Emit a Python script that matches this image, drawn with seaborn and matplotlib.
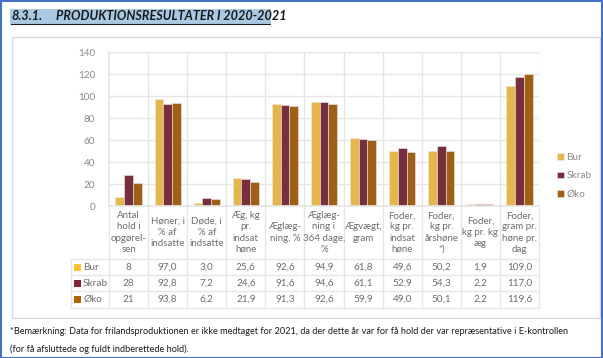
import matplotlib
matplotlib.use("Agg")
import matplotlib.pyplot as plt
import matplotlib.transforms as mtransforms
from matplotlib.patches import Rectangle
import pandas as pd
import seaborn as sns

# data
groups = ["Bur", "Skrab", "Øko"]
metrics = [
    "Antal\nhold i\nopgørel-\nsen",
    "Høner, i\n% af\nindsatte",
    "Døde, i\n% af\nindsatte",
    "Æg, kg\npr.\nindsat\nhøne",
    "Æglæg-\nning, %",
    "Æglæg-\nning i\n364 dage,\n%",
    "Ægvægt,\ngram",
    "Foder,\nkg pr.\nindsat\nhøne",
    "Foder,\nkg pr.\nårshøne\n*)",
    "Foder,\nkg pr. kg\næg",
    "Foder,\ngram pr.\nhøne pr.\ndag",
]
bur = [8, 97.0, 3.0, 25.6, 92.6, 94.9, 61.8, 49.6, 50.2, 1.9, 109.0]
skrab = [28, 92.8, 7.2, 24.6, 91.6, 94.6, 61.1, 52.9, 54.3, 2.2, 117.0]
oeko = [21, 93.8, 6.2, 21.9, 91.3, 92.6, 59.9, 49.0, 50.1, 2.2, 119.6]
yticks = [0, 20, 40, 60, 80, 100, 120, 140]

colors = {"Bur": "#FDC231", "Skrab": "#832236", "Øko": "#B56200"}
grid_c = "#E6E6E6"
txt_c = "#8A8A8A"
tab_c = "#6E6E6E"

rows = {"Bur": bur, "Skrab": skrab, "Øko": oeko}
df = pd.DataFrame(
    [(m, g, v) for g, vals in rows.items() for m, v in zip(metrics, vals)],
    columns=["metric", "group", "value"],
)

W, H = 603, 358
sns.set_theme(style="white")
plt.rcParams["font.family"] = ["Lato", "DejaVu Sans"]

fig = plt.figure(figsize=(W / 100, H / 100), dpi=100)


def fy(px):
    return 1 - px / H


def fx(px):
    return px / W


ax = fig.add_axes([fx(109), fy(206), fx(539) - fx(109), fy(52) - fy(206)])
sns.barplot(data=df, x="metric", y="value", hue="group", order=metrics,
            hue_order=groups, palette=colors, width=0.67, gap=0,
            edgecolor="#F3E6E6", linewidth=0.4, ax=ax, legend=True)

ax.set_xlim(-0.5, len(metrics) - 0.5)
ax.set_ylim(0, 140)
ax.set_yticks(yticks)
ax.set_yticklabels([str(t) for t in yticks], color=txt_c, fontsize=7.2)
ax.tick_params(axis="y", length=0, pad=10)
ax.set_xticks([])
ax.set_xlabel("")
ax.set_ylabel("")
for t in yticks[1:]:
    ax.axhline(t, color=grid_c, lw=1, zorder=0)
for i in range(len(metrics)):
    ax.axvline(i + 0.5, color=grid_c, lw=1, zorder=0)
for s in ax.spines.values():
    s.set_visible(False)
ax.spines["left"].set_visible(True)
ax.spines["left"].set_color(grid_c)
ax.spines["bottom"].set_visible(True)
ax.spines["bottom"].set_color(grid_c)

ax.legend(loc="center left", bbox_to_anchor=(fx(552), fy(176)),
          bbox_transform=fig.transFigure, frameon=False, fontsize=7.2,
          handlelength=0.65, handleheight=0.65, handletextpad=0.3,
          labelspacing=0.95, labelcolor=txt_c, borderpad=0)

# data table below the axes
tr = mtransforms.blended_transform_factory(ax.transData, fig.transFigure)
line_kw = dict(color=grid_c, lw=1, clip_on=False)
for i in range(len(metrics)):
    ax.plot([i + 0.5, i + 0.5], [fy(206), fy(308)], transform=tr, **line_kw)
ax.plot([-0.5, -0.5], [fy(206), fy(308)], transform=tr, **line_kw)
for ypx in [259, 275, 291, 308]:
    fig.add_artist(plt.Line2D([fx(71), fx(539)], [fy(ypx), fy(ypx)], color=grid_c, lw=1))
fig.add_artist(plt.Line2D([fx(71), fx(71)], [fy(259), fy(308)], color=grid_c, lw=1))

for i, m in enumerate(metrics):
    ax.text(i, fy(232.5), m, transform=tr, ha="center", va="center",
            fontsize=7, color=tab_c, linespacing=1.3)

row_y = [267, 283, 299.5]
for (g, vals), ypx in zip(rows.items(), row_y):
    fig.add_artist(Rectangle((fx(74), fy(ypx + 3.5)), fx(7), 7 / H,
                             facecolor=colors[g], edgecolor="none"))
    fig.text(fx(83), fy(ypx), g, ha="left", va="center", fontsize=7.2, color=tab_c)
    for i, v in enumerate(vals):
        s = str(int(v)) if i == 0 else f"{v:.1f}".replace(".", ",")
        ax.text(i, fy(ypx), s, transform=tr, ha="center", va="center",
                fontsize=7.2, color=tab_c)

# chart frame and page decoration
fig.add_artist(Rectangle((fx(12), fy(318)), fx(600) - fx(12), fy(37) - fy(318),
                         facecolor="none", edgecolor="#DADADA", lw=1))
fig.add_artist(Rectangle((0.5 / W, 0.5 / H), 1 - 1.5 / W, 1 - 1.5 / H,
                         facecolor="none", edgecolor="#4472C4", lw=1.5))

fig.add_artist(Rectangle((fx(10), fy(25)), fx(271) - fx(10), 16 / H,
                         facecolor="#A9C9E3", edgecolor="none"))
fig.text(fx(11), fy(16.5), "8.3.1.", fontsize=9.1, fontweight="bold",
         fontstyle="italic", color="#1A1A1A", va="center")
fig.text(fx(56), fy(16.5), "PRODUKTIONSRESULTATER I 2020-2021", fontsize=9.1,
         fontweight="bold", fontstyle="italic", color="#1A1A1A", va="center")
fig.add_artist(plt.Line2D([fx(11), fx(270)], [fy(23.5), fy(23.5)], color="#1A1A1A", lw=0.8))

fig.text(fx(10), fy(332), "*Bemærkning: Data for frilandsproduktionen er ikke medtaget for 2021, "
         "da der dette år var for få hold der var repræsentative i E-kontrollen",
         fontsize=6.6, color="#1A1A1A", va="center")
fig.text(fx(10), fy(349), "(for få afsluttede og fuldt indberettede hold).",
         fontsize=6.6, color="#1A1A1A", va="center")

fig.savefig("out.png", dpi=100)
